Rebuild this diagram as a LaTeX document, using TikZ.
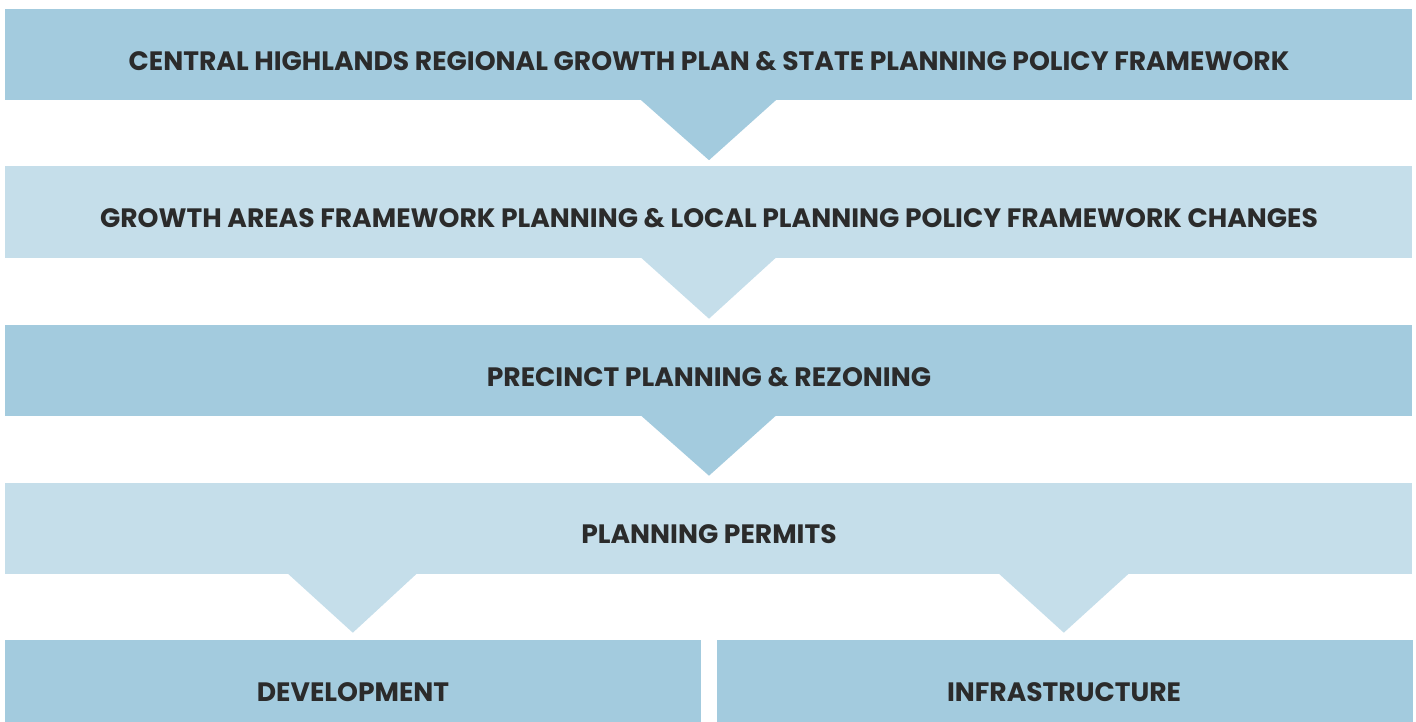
\documentclass[tikz,border=0pt]{standalone}
\usepackage{fontspec}
\setmainfont{Poppins}
\usetikzlibrary{calc}
\definecolor{bdark}{HTML}{A3CBDE}
\definecolor{blight}{HTML}{C5DEEA}
\definecolor{txt}{HTML}{2B2B2B}
\tikzset{
  band/.style={fill=#1, draw=none, inner sep=0pt, minimum height=91pt, minimum width=1407pt},
  halfband/.style={fill=#1, draw=none, inner sep=0pt, minimum height=82pt, minimum width=696pt},
  lbl/.style={text=txt, font=\fontsize{26.6}{30}\selectfont\bfseries, anchor=base, inner sep=0pt},
  chevron/.style={fill=#1, draw=none}
}
\begin{document}
\begin{tikzpicture}[x=1pt,y=-1pt]
\useasboundingbox (0,0) rectangle (1416,722);
\node[band=bdark] (b1) at (708.5,54.5) {};
\node[band=blight] (b2) at (708.5,212) {};
\node[band=bdark] (b3) at (708.5,370) {};
\node[band=blight] (b4) at (708.5,528) {};
\node[halfband=bdark, anchor=north west] (b5) at (5,640) {};
\node[halfband=bdark, anchor=north west] (b6) at (717,640) {};
% chevrons
\fill[bdark] ($(b1.south)+(-68.5,-1)$) -- ($(b1.south)+(0.5,60)$) -- ($(b1.south)+(68.5,-1)$) -- cycle;
\fill[blight] ($(b2.south)+(-68.5,-1)$) -- ($(b2.south)+(0.5,61)$) -- ($(b2.south)+(68.5,-1)$) -- cycle;
\fill[bdark] ($(b3.south)+(-68.5,-1)$) -- ($(b3.south)+(0.5,60)$) -- ($(b3.south)+(68.5,-1)$) -- cycle;
\fill[blight] ($(b4.south west)+(282,-1)$) -- ($(b4.south west)+(348,59)$) -- ($(b4.south west)+(413,-1)$) -- cycle;
\fill[blight] ($(b4.south west)+(993,-1)$) -- ($(b4.south west)+(1059,59)$) -- ($(b4.south west)+(1125,-1)$) -- cycle;
% labels
\node[lbl] (t1) at (709,70.5) {CENTRAL HIGHLANDS REGIONAL GROWTH PLAN \& STATE PLANNING POLICY FRAMEWORK};
\node[lbl] (t2) at (709,228) {GROWTH AREAS FRAMEWORK PLANNING \& LOCAL PLANNING POLICY FRAMEWORK CHANGES};
\node[lbl] (t3) at (709,386) {PRECINCT PLANNING \& REZONING};
\node[lbl] (t4) at (709,543.5) {PLANNING PERMITS};
\node[lbl] (t5) at (353,701) {DEVELOPMENT};
\node[lbl] (t6) at (1064,701) {INFRASTRUCTURE};
\end{tikzpicture}
\end{document}
